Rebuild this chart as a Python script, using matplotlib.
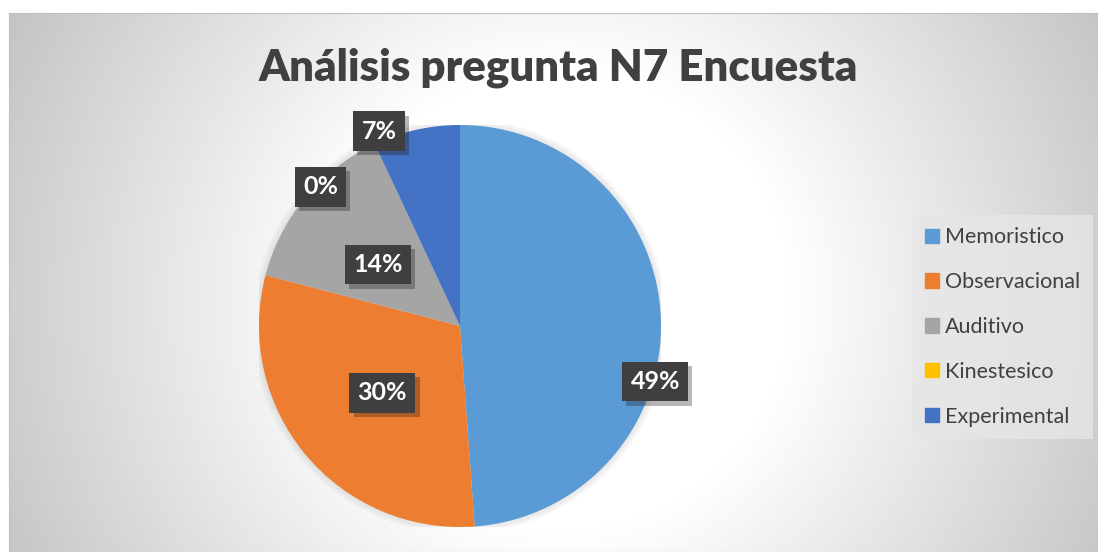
import numpy as np
import matplotlib.pyplot as plt
import matplotlib.patheffects as pe

categorias = ['Memoristico', 'Observacional', 'Auditivo', 'Kinestesico', 'Experimental']
respuestas = [21, 13, 6, 0, 3]
colores = ['#5b9bd5', '#ed7d31', '#a5a5a5', '#ffc000', '#4472c4']
titulo = 'Análisis pregunta N7 Encuesta'

# colocacion manual de etiquetas: radio y giro (grados) respecto al centro de cada porcion
etiqueta_radio = [1.01, 0.51, 0.51, 0.98, 1.05]
etiqueta_giro = [-18, 1, 3, 20, 10]

plt.rcParams['font.family'] = ['Lato', 'DejaVu Sans']

W, H = 1098, 552
fig = plt.figure(figsize=(W / 100, H / 100), dpi=100)
fig.patch.set_facecolor('white')

# fondo del grafico con degradado radial
bg = fig.add_axes([9 / W, 0, 1 - 9 / W, 1 - 13 / H])
yy, xx = np.mgrid[13:H, 9:W]
d = np.hypot(xx - 560, yy - 300)
t = np.clip((d - 230) / 390, 0, 1)
gris = 1 - t * (1 - 0xc4 / 255)
bg.imshow(np.dstack([gris] * 3), aspect='auto', interpolation='bilinear')
bg.set_xticks([])
bg.set_yticks([])
for s in bg.spines.values():
    s.set_color('#c0c0c0')

# pastel
R = 201
cx, cy = 460, 326
ax = fig.add_axes([(cx - R) / W, (H - cy - R) / H, 2 * R / W, 2 * R / H])
for k in range(6):
    ax.add_patch(plt.Circle((0, 0), 1 + 0.007 * k, color='#808080', alpha=0.035, lw=0))
wedges, _ = ax.pie(respuestas, colors=colores, startangle=90, counterclock=False, radius=1,
                   wedgeprops=dict(linewidth=0))
ax.set_xlim(-1, 1)
ax.set_ylim(-1, 1)
ax.axis('off')

total = sum(respuestas)
for i, w in enumerate(wedges):
    ang = np.deg2rad((w.theta1 + w.theta2) / 2 + etiqueta_giro[i])
    x = etiqueta_radio[i] * np.cos(ang)
    y = etiqueta_radio[i] * np.sin(ang)
    txt = ax.text(x, y, '%d%%' % round(100 * respuestas[i] / total), ha='center', va='center',
                  color='white', fontsize=18, fontweight='bold', zorder=10,
                  bbox=dict(boxstyle='square,pad=0.33', facecolor='#3f3f3f', edgecolor='none'))
    txt.get_bbox_patch().set_path_effects([pe.SimplePatchShadow(offset=(3, -3), alpha=0.3),
                                           pe.Normal()])

fig.text(558 / W, 1 - 80 / H, titulo, ha='center', va='baseline', fontsize=31.5,
         fontweight='heavy', color='#404040')

handles = [plt.Rectangle((0, 0), 1, 1, color=c) for c in colores]
fig.legend(handles, categorias, loc='center left', bbox_to_anchor=(912 / W, 1 - 327 / H),
           fontsize=15.5, labelcolor='#404040', handlelength=0.65, handleheight=0.65,
           handletextpad=0.3, labelspacing=1.15, borderpad=0.6, borderaxespad=0,
           fancybox=False, facecolor='#e6e6e6', edgecolor='none', framealpha=0.8)

fig.savefig('out.png', dpi=100)
